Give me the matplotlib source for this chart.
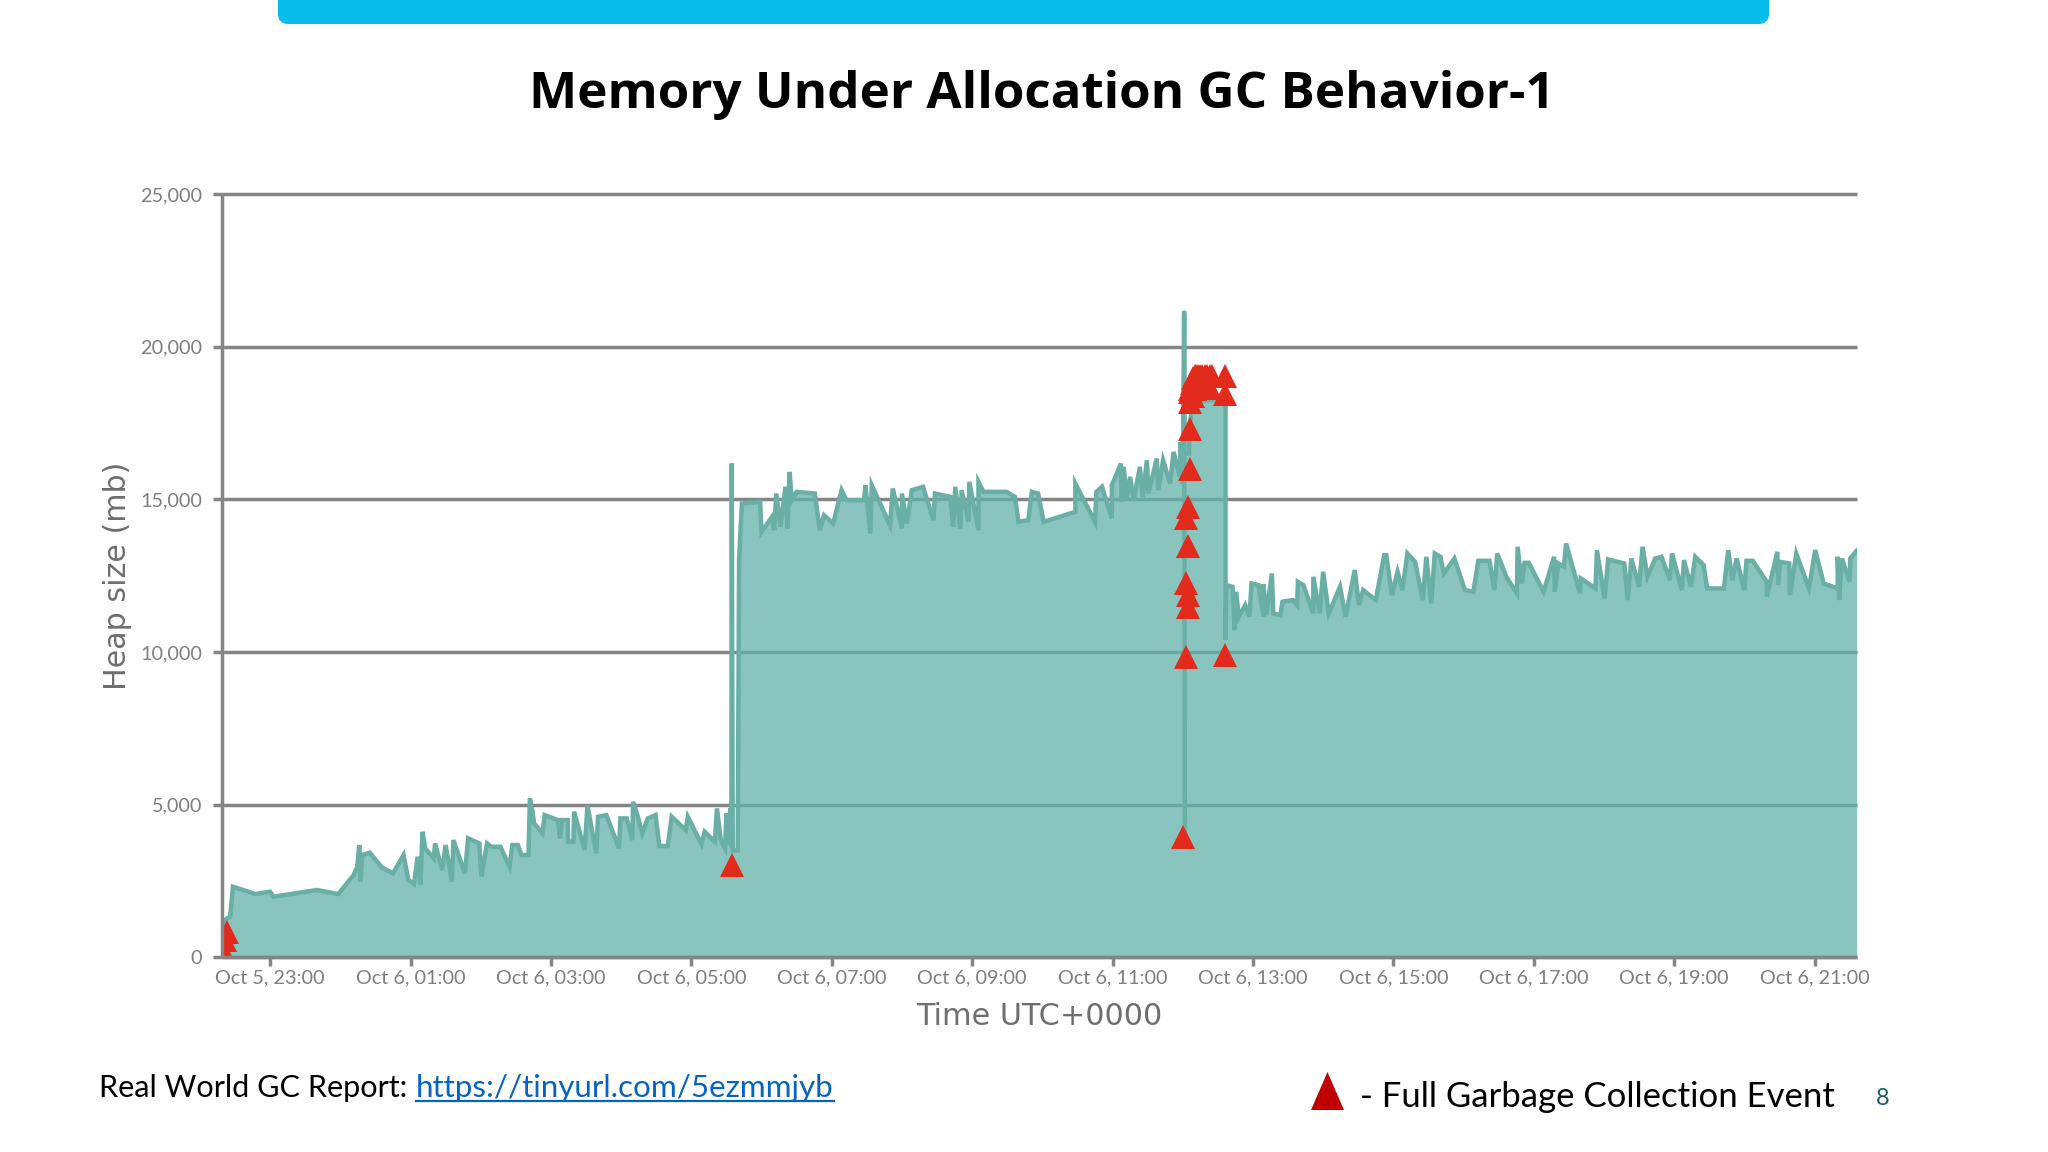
import matplotlib
matplotlib.use('Agg')
import matplotlib.pyplot as plt
from matplotlib.patches import FancyBboxPatch, Polygon

# hours since Oct 5 23:00, heap size in mb
hours = [-0.69, -0.674, -0.617, -0.57, -0.53, -0.21, 0, 0.05, 0.665, 0.97, 1.19, 1.24, 1.27, 1.29, 1.31, 1.42,
         1.59, 1.75, 1.90, 1.97, 2.05, 2.10, 2.14, 2.17, 2.21, 2.33, 2.35, 2.45, 2.50, 2.59, 2.61, 2.775, 2.82,
         2.98, 3.01, 3.09, 3.15, 3.28, 3.41, 3.45, 3.53, 3.58, 3.68, 3.70, 3.735, 3.76, 3.88, 3.91, 4.10, 4.13,
         4.155, 4.24, 4.245, 4.32, 4.33, 4.48, 4.52, 4.645, 4.67, 4.79, 4.97, 4.99, 5.08, 5.16, 5.17, 5.245,
         5.30, 5.38, 5.49, 5.545, 5.665, 5.72, 5.92, 5.95, 6.145, 6.19, 6.335, 6.365, 6.42, 6.48, 6.50, 6.53,
         6.555, 6.57, 6.576, 6.59, 6.66, 6.68, 6.70, 6.72,
         6.98, 7.0, 7.15, 7.18, 7.21, 7.27, 7.34, 7.37, 7.40, 7.43, 7.50, 7.76, 7.83, 7.89, 8.02, 8.14, 8.21,
         8.46, 8.48, 8.55, 8.57, 8.83, 8.87, 9.0, 9.0, 9.07, 9.14, 9.30, 9.45, 9.47, 9.69, 9.73, 9.76, 9.83,
         9.85, 9.95, 9.96, 10.09, 10.09, 10.16, 10.49, 10.61, 10.66, 10.80, 10.85, 10.94, 11.02, 11.47, 11.47,
         11.58, 11.75, 11.77, 11.85, 11.99, 11.99, 12.12, 12.13, 12.16, 12.20, 12.25, 12.30, 12.39, 12.43,
         12.49, 12.51, 12.63, 12.65, 12.72, 12.82, 12.87, 12.96, 12.97, 13.0, 13.02, 13.025, 13.09, 13.1,
         13.15, 13.61,
         13.61, 13.62, 13.71, 13.74, 13.76, 13.80, 13.89, 13.95, 13.98, 14.08, 14.15, 14.15, 14.19, 14.27,
         14.29, 14.39, 14.42, 14.57, 14.63, 14.64, 14.72, 14.86, 14.86, 14.95, 15.0, 15.08, 15.24, 15.32,
         15.45, 15.51, 15.57, 15.75, 15.87, 15.9, 15.98, 16.06, 16.13, 16.20, 16.31, 16.42, 16.47, 16.54,
         16.59, 16.67, 16.72, 16.87, 17.02, 17.14, 17.21, 17.37, 17.44, 17.48, 17.61, 17.76, 17.77, 17.83,
         17.87, 17.93, 18.14, 18.29, 18.30, 18.35, 18.43, 18.46, 18.66, 18.67, 18.88, 18.90, 19.01, 19.06,
         19.29, 19.34, 19.39, 19.50, 19.55, 19.62, 19.73, 19.82, 19.94, 19.97, 20.11, 20.14, 20.24, 20.30,
         20.42, 20.47, 20.71, 20.77, 20.83, 20.89, 21.0, 21.03, 21.12, 21.32, 21.32, 21.47, 21.48, 21.51,
         21.64, 21.65, 21.74, 21.92, 22.01, 22.13, 22.33, 22.33, 22.35, 22.39, 22.50, 22.51, 22.6]
heap = [0, 1113, 1276, 1331, 2313, 2073, 2149, 1986, 2204, 2073, 2695, 2968, 3677, 2477, 3350, 3426,
        2946, 2750, 3350, 2531, 2400, 3295, 2368, 4113, 3568, 3240, 3731, 2858, 3677, 2477, 3840, 2749, 3895,
        3731, 2640, 3731, 3622, 3622, 2968, 3677, 3677, 3349, 3349, 5204, 4822, 4386, 4058, 4659, 4495, 3895,
        4495, 4495, 3786, 3786, 4768, 3513, 4986, 3404, 4604, 4659, 3568, 4550, 4550, 3840, 5095, 4550,
        4059, 4550, 4659, 3644, 3644, 4604, 4168, 4604, 3709, 4113, 3786, 4877, 3840, 3568, 4713, 3700,
        4877, 3600, 16172, 3500, 3500, 13000, 14000, 14863,
        14918, 13936, 14427, 13990, 15190, 14100, 15409, 14045, 15900, 14972, 15245, 15190, 13990, 14481,
        14208, 15300, 14972, 14972, 15463, 13881, 15463, 14154, 15354, 14045, 15190, 14208, 15300, 15409,
        14318, 15190, 15081, 14100, 15409, 14045, 15300, 14263, 15572, 13990, 15572, 15245, 15245, 15081,
        14263, 14318, 15245, 15190, 14263, 14590, 15518, 15027, 14263, 15245, 15409, 14372, 15463, 16172,
        14918, 16063, 14972, 15736, 14972, 16063, 15081, 16281, 15190, 16336, 15300, 16281, 15518, 16554,
        15736, 16881, 15500, 21104, 16500, 16500, 17500, 18200, 18300,
        10390, 12190, 12136, 10718, 11972, 11154, 11536, 11154, 12245, 12190, 11154, 12223, 11209, 12572,
        11263, 11209, 11645, 11700, 11536, 12300, 12190, 11263, 12463, 11263, 12627, 11263, 12136, 11154,
        12681, 11536, 12027, 11700, 13172, 13172, 11863, 12627, 12027, 13227, 12954, 11700, 13118, 11590,
        13227, 13118, 12572, 13063, 12027, 11972, 12987, 12987, 12027, 13227, 12463, 11918, 13445, 12245,
        12921, 12921, 11972, 13118, 11972, 12900, 12791, 13554, 11918, 12409, 12082, 13336, 11754, 13031,
        12900, 11700, 13063, 12136, 13445, 12463, 13063, 13118, 12354, 13227, 12027, 13009, 12136, 13118,
        12845, 12082, 12082, 13336, 12354, 13063, 12027, 12987, 12987, 12300, 11809, 13282, 12190, 12954,
        12900, 11863, 13227, 12082, 13336, 12245, 12082, 13118, 11700, 13063, 12300, 13063, 13314]

# the line that runs down through the fill at the 13h mark
drop_hours = [13.02, 13.03]
drop_heap = [21104, 3900]

# full GC events
gc_hours = [-0.61, -0.65, -0.69, 6.58, 13.01, 13.05, 13.60, 13.07, 13.07, 13.05, 13.07, 13.05, 13.07, 13.10,
            13.10, 13.10, 13.10, 13.11, 13.13, 13.15, 13.17, 13.19, 13.22, 13.25, 13.28, 13.32, 13.35, 13.39,
            13.42, 13.14, 13.18, 13.22, 13.25, 13.32, 13.39, 13.60, 13.60]
gc_heap = [838, 567, 295, 3020, 3938, 9835, 9900, 11472, 11853, 12268, 13468, 14374, 14755, 15977,
           17308, 18181, 18500, 18600, 18800, 18977, 19054, 19054, 19054, 19054, 19054, 19054, 19054, 19054,
           19054, 18400, 18600, 18700, 18650, 18650, 18650, 19054, 18465]

y_ticks = [0, 5000, 10000, 15000, 20000, 25000]
x_ticks = list(range(0, 24, 2))
x_labels = ['Oct 5, 23:00', 'Oct 6, 01:00', 'Oct 6, 03:00', 'Oct 6, 05:00', 'Oct 6, 07:00', 'Oct 6, 09:00',
            'Oct 6, 11:00', 'Oct 6, 13:00', 'Oct 6, 15:00', 'Oct 6, 17:00', 'Oct 6, 19:00', 'Oct 6, 21:00']

GRAY = '#858585'
W, H = 2048, 1152

fig = plt.figure(figsize=(W / 100, H / 100), dpi=100)
ax = fig.add_axes([221.7 / W, 1 - 957.3 / H, (1857 - 221.7) / W, (957.3 - 194) / H])

ax.fill_between(hours, heap, 0, color='#64B2AA', alpha=0.76, lw=0, zorder=3)
ax.plot(hours, heap, color='#69AFA5', lw=3.2, solid_joinstyle='miter', zorder=4)
ax.plot(drop_hours, drop_heap, color='#69AFA5', lw=3.2, zorder=4)
ax.plot(gc_hours, gc_heap, ls='', marker='^', ms=17.5, mfc='#E22B1C', mec='#E22B1C', mew=0, zorder=5)

ax.set_xlim(-0.69, 22.605)
ax.set_ylim(0, 25000)
ax.set_yticks(y_ticks)
ax.set_yticklabels([f'{v:,}' for v in y_ticks], fontsize=14.3, family='Lato', color='#7f7f7f')
ax.set_xticks(x_ticks)
ax.set_xticklabels(x_labels, fontsize=14.3, family='Lato', color='#7f7f7f')
ax.tick_params(axis='x', length=6.5, width=2.5, color=GRAY, pad=2)
ax.tick_params(axis='y', length=6.5, width=2.5, color=GRAY, pad=7.5)
ax.grid(axis='y', color=GRAY, lw=2.5, zorder=1)
ax.set_axisbelow(True)
for line in ax.get_ygridlines():
    line.set_clip_on(False)
    line.set_solid_capstyle('butt')
for s in ['top', 'right']:
    ax.spines[s].set_visible(False)
for s in ['left', 'bottom']:
    ax.spines[s].set_color(GRAY)
    ax.spines[s].set_linewidth(2.5)
    ax.spines[s].set_capstyle('butt')
    ax.spines[s].set_zorder(6)

ax.set_xlabel('Time UTC+0000', fontsize=21.8, color='#6e6e6e', va='baseline')
ax.xaxis.set_label_coords(0.5, -0.0887)
ax.set_ylabel('Heap size (mb)', fontsize=21.7, color='#6e6e6e', va='center')
ax.yaxis.set_label_coords(-0.064, 0.4995)

# slide furniture, in pixel coordinates
over = fig.add_axes([0, 0, 1, 1], zorder=10)
over.set_xlim(0, W)
over.set_ylim(H, 0)
over.axis('off')
over.patch.set_alpha(0)

over.add_patch(FancyBboxPatch((283, -20), 1481, 39, boxstyle='round,pad=0,rounding_size=5',
                              mutation_aspect=1, fc='#08BDEC', ec='#08BDEC', lw=10 * 0.72))
over.text(1041.5, 108, 'Memory Under Allocation GC Behavior-1', fontsize=36.85, family='Open Sans',
          weight='bold', color='black', ha='center', va='baseline')

over.text(99, 1097, 'Real World GC Report:', fontsize=22.1, family='Lato', color='black', va='baseline')
over.text(416, 1097, 'https://tinyurl.com/5ezmmjyb', fontsize=22.6, family='Lato', color='#0563C1', va='baseline')
over.plot([416, 834], [1101, 1101], color='#0563C1', lw=1.6)

over.add_patch(Polygon([(1311, 1110), (1344, 1110), (1327.5, 1072)], fc='#C00000', ec='none'))
over.text(1360, 1107, '- Full Garbage Collection Event', fontsize=25, family='Lato', color='black', va='baseline')
over.text(1876, 1105, '8', fontsize=17, family='Lato', color='#1F5A68', va='baseline')

fig.savefig('out.png', dpi=100)
